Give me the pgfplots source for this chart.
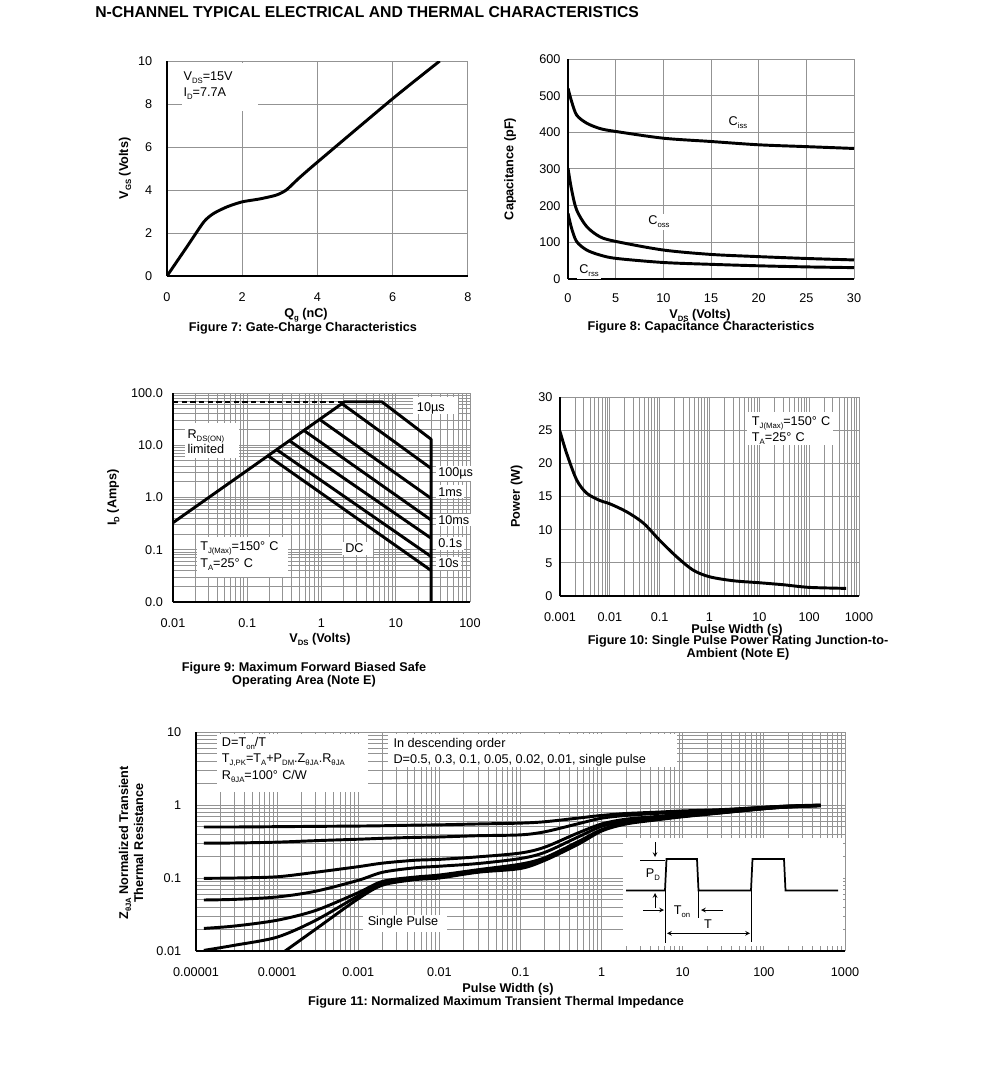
\documentclass[border=0pt]{standalone}
\usepackage{fontspec}
\setmainfont{Liberation Sans}
\usepackage{pgfplots}
\pgfplotsset{compat=1.18}

\newcommand{\fs}{\fontsize{9.5}{11.4}\selectfont}
\newcommand{\sub}[1]{\raisebox{-0.45ex}{\fontsize{5.8}{6}\selectfont #1}}
% minor log grid positions 2..9 x 10^k
\newcommand{\mklogminor}[3]{%
  \gdef#1{}%
  \foreach \e in {#2,...,#3}{\foreach \m in {2,...,9}{\xdef#1{#1\m e\e,}}}%
  \xdef#1{#11e#3}}
\mklogminor{\minorA}{-2}{1}
\mklogminor{\minorB}{-3}{2}
\mklogminor{\minorC}{-5}{2}
\mklogminor{\minorD}{-2}{0}

\pgfplotsset{
  sheet/.style={
    scale only axis, anchor=north west,
    axis x line*=bottom, axis y line*=left,
    axis line style={black, line width=1.5pt, -},
    enlargelimits=false,
    major tick length=0pt, minor tick length=0pt,
    major grid style={draw=gray!85, line width=0.75pt},
    minor grid style={draw=gray!85, line width=0.75pt},
    tick label style={font=\fs},
    /pgf/number format/assume math mode=true,
  },
  curve/.style={black, line width=2.2pt, line join=round, mark=none},
}
\tikzset{
  txt/.style={inner sep=0pt, font=\fs},
  bld/.style={inner sep=0pt, font=\bfseries\fs},
  lab/.style={inner sep=1.5pt, font=\fs, fill=white},
}
\frenchspacing

\begin{document}%
\begin{tikzpicture}[x=0.75pt,y=-0.75pt]
\useasboundingbox (0,0) rectangle (991,1092);

% ---------- Figure 7
\begin{axis}[sheet, at={(125.25pt,-45.75pt)}, width=225.75pt, height=161.25pt,
  xmin=0, xmax=8, ymin=0, ymax=10,
  xtick={0,2,4,6,8}, ytick={0,2,4,6,8,10}, grid=major,
  xticklabel style={yshift=-8.9pt}, yticklabel style={xshift=-7.6pt}]
\addplot[curve, smooth, tension=0.4] coordinates {
 (0,0) (0.53,1.36) (0.98,2.52) (1.24,2.91) (1.6,3.22) (2.0,3.45) (2.45,3.58)
 (2.9,3.76) (3.17,4.0) (3.5,4.54) (4.0,5.3) (6,8.25) (7.25,10)};
\end{axis}

% ---------- Figure 8
\begin{axis}[sheet, at={(426pt,-44.25pt)}, width=214.5pt, height=165pt,
  xmin=0, xmax=30, ymin=0, ymax=600,
  xtick={0,5,...,30}, ytick={0,100,...,600}, grid=major,
  xticklabel style={yshift=-7.6pt}, yticklabel style={xshift=-2.1pt}]
\addplot[curve, smooth, tension=0.5] coordinates {
 (0,520) (0.38,484) (0.91,447) (1.96,425) (3.4,410) (5.1,402) (10,384)
 (15,375) (20,366) (25,361) (30,356)};
\addplot[curve, smooth, tension=0.5] coordinates {
 (0,302) (0.38,243) (0.91,188) (1.96,143) (3.36,115) (5.1,102) (10,79)
 (15,67) (20,61) (25,56) (30,52)};
\addplot[curve, smooth, tension=0.5] coordinates {
 (0,179) (0.38,138) (0.91,102) (1.96,79) (3.4,65) (5.1,56) (10,45)
 (15,40) (20,36) (25,33) (30,31)};
\end{axis}

% ---------- Figure 9
\begin{axis}[sheet, at={(129.75pt,-294.75pt)}, width=222.75pt, height=156.75pt,
  xmode=log, ymode=log, xmin=0.01, xmax=100, ymin=0.01, ymax=100,
  xtick={0.01,0.1,1,10,100}, xticklabels={0.01,0.1,1,10,100},
  ytick={0.01,0.1,1,10,100}, yticklabels={0.0,0.1,1.0,10.0,100.0},
  minor xtick/.expanded={\minorA}, minor ytick/.expanded={\minorA},
  grid=both,
  xticklabel style={yshift=-9.1pt}, yticklabel style={xshift=-4.1pt}]
\addplot[black, line width=1.6pt, dash pattern=on 4pt off 2.5pt] coordinates {(0.01,68) (2.05,68)};
\addplot[curve] coordinates {(0.01,0.33) (2.05,68) (6.5,68) (30,13) (30,0.005)};
\addplot[curve] coordinates {(1.9,62) (30,3.6)};
\addplot[curve] coordinates {(0.95,31) (30,0.96)};
\addplot[curve] coordinates {(0.58,19.2) (30,0.37)};
\addplot[curve] coordinates {(0.37,12.2) (30,0.166)};
\addplot[curve] coordinates {(0.25,8.2) (30,0.074)};
\addplot[curve] coordinates {(0.19,6.3) (30,0.040)};
\end{axis}

% ---------- Figure 10
\begin{axis}[sheet, at={(420pt,-297.75pt)}, width=224.25pt, height=149.25pt,
  xmode=log, xmin=0.001, xmax=1000, ymin=0, ymax=30,
  xtick={0.001,0.01,0.1,1,10,100,1000},
  xticklabels={0.001,0.01,0.1,1,10,100,1000},
  ytick={0,5,...,30}, minor xtick/.expanded={\minorB},
  xmajorgrids, xminorgrids, ymajorgrids,
  xticklabel style={yshift=-9pt}, yticklabel style={xshift=-2.1pt}]
\addplot[curve, smooth, tension=0.5] coordinates {
 (0.001,24.8) (0.00136,21.5) (0.00216,17.5) (0.00343,15.5) (0.0063,14.4)
 (0.01,13.9) (0.0217,12.7) (0.047,11) (0.1,8.4) (0.22,5.9) (0.47,3.9)
 (1,2.9) (3,2.3) (10,2.0) (30,1.7) (100,1.3) (550,1.15)};
\end{axis}

% ---------- Figure 11
\begin{axis}[sheet, at={(147pt,-549pt)}, width=486.75pt, height=164.25pt,
  xmode=log, ymode=log, xmin=1e-5, xmax=1000, ymin=0.01, ymax=10,
  xtick={1e-5,1e-4,1e-3,1e-2,0.1,1,10,100,1000},
  xticklabels={0.00001,0.0001,0.001,0.01,0.1,1,10,100,1000},
  ytick={0.01,0.1,1,10}, yticklabels={0.01,0.1,1,10},
  minor xtick/.expanded={\minorC}, minor ytick/.expanded={\minorD},
  grid=both,
  xticklabel style={yshift=-8.9pt}, yticklabel style={xshift=-7.6pt}]
% D=0.5
\addplot[curve, smooth, tension=0.5] coordinates {
 (1.25e-5,0.50) (3e-5,0.50) (1e-4,0.505) (3e-4,0.51) (1e-3,0.515) (2e-3,0.52)
 (5e-3,0.53) (0.01,0.535) (0.03,0.55) (0.1,0.565) (0.2,0.59) (0.5,0.66)
 (1,0.72) (2,0.765) (5,0.80) (10,0.83) (30,0.865) (100,0.93) (200,0.97) (500,1.0)};
% D=0.3
\addplot[curve, smooth, tension=0.5] coordinates {
 (1.25e-5,0.30) (3e-5,0.302) (1e-4,0.31) (3e-4,0.325) (1e-3,0.34) (2e-3,0.35)
 (5e-3,0.36) (0.01,0.365) (0.03,0.38) (0.1,0.39) (0.2,0.43) (0.5,0.55)
 (1,0.66) (2,0.72) (5,0.77) (10,0.80) (30,0.85) (100,0.93) (200,0.965) (500,0.99)};
% D=0.1
\addplot[curve, smooth, tension=0.5] coordinates {
 (1.25e-5,0.099) (3e-5,0.10) (1e-4,0.104) (3e-4,0.12) (1e-3,0.143) (2e-3,0.16)
 (5e-3,0.175) (0.01,0.18) (0.03,0.195) (0.1,0.22) (0.2,0.265) (0.5,0.41)
 (1,0.55) (2,0.64) (5,0.70) (10,0.75) (30,0.82) (100,0.92) (200,0.96) (500,0.99)};
% D=0.05
\addplot[curve, smooth, tension=0.5] coordinates {
 (1.25e-5,0.050) (3e-5,0.051) (1e-4,0.055) (3e-4,0.066) (1e-3,0.093) (2e-3,0.12)
 (5e-3,0.138) (0.01,0.145) (0.03,0.158) (0.1,0.185) (0.2,0.225) (0.5,0.36)
 (1,0.51) (2,0.60) (5,0.675) (10,0.72) (30,0.80) (100,0.905) (200,0.95) (500,0.985)};
% D=0.02
\addplot[curve, smooth, tension=0.5] coordinates {
 (1.25e-5,0.0204) (3e-5,0.022) (1e-4,0.0264) (3e-4,0.036) (1e-3,0.063) (2e-3,0.09)
 (5e-3,0.103) (0.01,0.11) (0.03,0.13) (0.1,0.155) (0.2,0.19) (0.5,0.31)
 (1,0.46) (2,0.57) (5,0.65) (10,0.705) (30,0.79) (100,0.895) (200,0.945) (500,0.98)};
% D=0.01
\addplot[curve, smooth, tension=0.5] coordinates {
 (1.25e-5,0.0102) (3e-5,0.012) (1e-4,0.0155) (3e-4,0.0264) (1e-3,0.057) (2e-3,0.084)
 (5e-3,0.098) (0.01,0.105) (0.03,0.122) (0.1,0.146) (0.2,0.18) (0.5,0.295)
 (1,0.45) (2,0.56) (5,0.64) (10,0.70) (30,0.785) (100,0.89) (200,0.94) (500,0.98)};
% single pulse
\addplot[curve, smooth, tension=0.5] coordinates {
 (1.1e-4,0.009) (3e-4,0.020) (1e-3,0.052) (2e-3,0.08) (5e-3,0.095) (0.01,0.10)
 (0.03,0.12) (0.1,0.135) (0.2,0.175) (0.5,0.285) (1,0.44) (2,0.55) (5,0.63)
 (10,0.69) (30,0.78) (100,0.89) (200,0.94) (500,0.98)};
\end{axis}

% ---------- white annotation boxes
\fill[white] (182,62.5) rectangle (258,110.5);
\fill[white] (185,423) rectangle (239,458);
\fill[white] (197,537) rectangle (288,577);
\fill[white] (413,397) rectangle (458,413.5);
\fill[white] (341.7,541.7) rectangle (373.3,555);
\fill[white] (747,412) rectangle (833,445);
\fill[white] (217,733.5) rectangle (368,792);
\fill[white] (388,733.5) rectangle (677,767);
\fill[white] (363,915) rectangle (447,932);
\fill[white] (623,838) rectangle (843,946);

% ---------- pulse sketch inset
\begin{axis}[at={(467.25pt,-628.5pt)}, anchor=north west, scale only axis,
  width=165pt, height=81pt, xmin=623, xmax=843, ymin=-946, ymax=-838,
  axis lines=none, ticks=none, clip=false]
\addplot[black, line width=1.3pt, mark=none] coordinates {
 (626,-890.5) (665,-890.5) (666.5,-859) (697,-859) (698.5,-890.5) (751,-890.5)
 (752.5,-859) (784,-859) (785.5,-890.5) (838,-890.5)};
\addplot[black, line width=0.6pt, mark=none] coordinates {(665,-890.5) (665,-943)};
\addplot[black, line width=0.6pt, mark=none] coordinates {(698.5,-890.5) (698.5,-918)};
\addplot[black, line width=0.6pt, mark=none] coordinates {(751.5,-890.5) (751.5,-942)};
\addplot[black, line width=0.6pt, mark=none] coordinates {(640,-860.5) (665,-860.5)};
\draw[black, line width=0.6pt, -stealth] (axis cs:655,-842) -- (axis cs:655,-857);
\draw[black, line width=0.6pt, -stealth] (axis cs:655,-908) -- (axis cs:655,-893);
\draw[black, line width=0.6pt, -stealth] (axis cs:643,-910) -- (axis cs:664,-910);
\draw[black, line width=0.6pt, -stealth] (axis cs:723,-910) -- (axis cs:701,-910);
\draw[black, line width=0.6pt, stealth-stealth] (axis cs:667,-933.3) -- (axis cs:750,-933.3);
\end{axis}

% ---------- texts
\node[anchor=west, inner sep=0pt, font=\bfseries\fontsize{11.8}{13}\selectfont] at (95,12)
  {N-CHANNEL TYPICAL ELECTRICAL AND THERMAL CHARACTERISTICS};

% fig 7
\node[txt, anchor=west] at (183.3,77.3) {V\sub{DS}=15V};
\node[txt, anchor=west] at (183.3,93.3) {I\sub{D}=7.7A};
\node[bld] at (306,315.5) {Q\sub{g} (nC)};
\node[bld] at (303,328.5) {Figure 7: Gate-Charge Characteristics};
\node[bld, rotate=90] at (125,168.5) {V\sub{GS} (Volts)};

% fig 8
\node[lab] at (738,122.7) {C\sub{iss}};
\node[lab] at (659,221.7) {C\sub{oss}};
\node[lab] at (589,270.7) {C\sub{rss}};
\node[bld] at (700,315) {V\sub{DS} (Volts)};
\node[bld] at (701,327.5) {Figure 8: Capacitance Characteristics};
\node[bld, rotate=90] at (510,169) {Capacitance (pF)};

% fig 9
\node[txt, anchor=west] at (187.3,436.7) {R\sub{DS(ON)}};
\node[txt, anchor=west] at (187.3,449) {limited};
\node[txt, anchor=west] at (416.7,408.3) {10µs};
\node[lab, anchor=west] at (436,473.3) {100µs};
\node[lab, anchor=west] at (436,491.7) {1ms};
\node[lab, anchor=west] at (436,520) {10ms};
\node[lab, anchor=west] at (436,543.3) {0.1s};
\node[lab, anchor=west] at (436,563.3) {10s};
\node[txt, anchor=west] at (345,548.3) {DC};
\node[txt, anchor=west] at (200,548.3) {T\sub{J(Max)}=150°\,\,C};
\node[txt, anchor=west] at (200,565) {T\sub{A}=25°\,\,C};
\node[bld] at (320,639) {V\sub{DS} (Volts)};
\node[bld] at (304,668.3) {Figure 9: Maximum Forward Biased Safe};
\node[bld] at (304,681.7) {Operating Area (Note E)};
\node[bld, rotate=90] at (113.3,497.5) {I\sub{D} (Amps)};

% fig 10
\node[txt, anchor=west] at (751.7,423.3) {T\sub{J(Max)}=150°\,\,C};
\node[txt, anchor=west] at (751.7,438.3) {T\sub{A}=25°\,\,C};
\node[bld] at (737,630) {Pulse Width (s)};
\node[bld] at (738,641.5) {Figure 10: Single Pulse Power Rating Junction-to-};
\node[bld] at (738,654.5) {Ambient (Note E)};
\node[bld, rotate=90] at (516.7,496.5) {Power (W)};

% fig 11
\node[txt, anchor=west] at (221.7,743) {D=T\sub{on}/T};
\node[txt, anchor=west] at (221.7,759.7) {T\sub{J,PK}=T\sub{A}+P\sub{DM}.Z\sub{θJA}.R\sub{θJA}};
\node[txt, anchor=west] at (221.7,776.3) {R\sub{θJA}=100°\,\,C/W};
\node[txt, anchor=west] at (393.3,744) {In descending order};
\node[txt, anchor=west] at (393.3,760.3) {D=0.5, 0.3, 0.1, 0.05, 0.02, 0.01, single pulse};
\node[txt] at (403,922.3) {Single Pulse};
\node[txt] at (653,875) {P\sub{D}};
\node[txt] at (682,912) {T\sub{on}};
\node[txt] at (708,924) {T};
\node[bld] at (508,989) {Pulse Width (s)};
\node[bld] at (496,1002) {Figure 11: Normalized Maximum Transient Thermal Impedance};
\node[bld, rotate=90] at (125,843) {Z\sub{θJA} Normalized Transient};
\node[bld, rotate=90] at (138.5,843) {Thermal Resistance};
\end{tikzpicture}%
\end{document}
